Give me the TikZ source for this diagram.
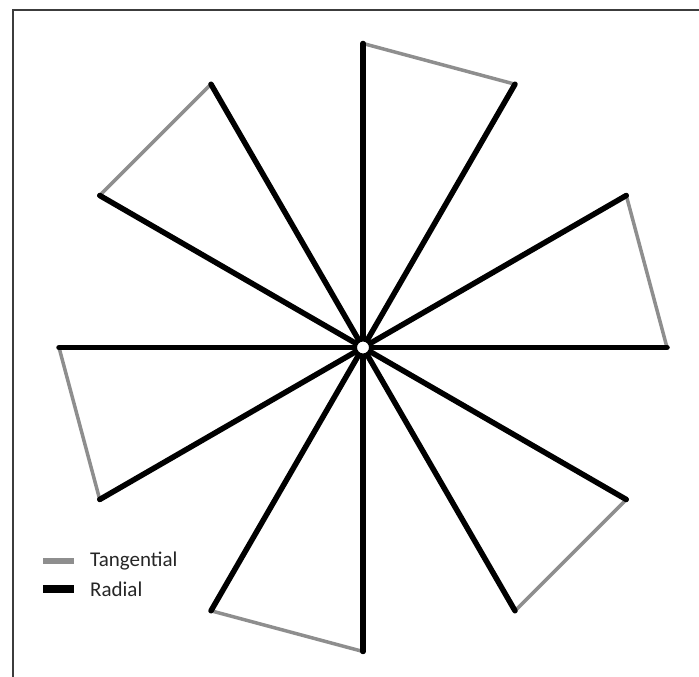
\documentclass[tikz,border=0pt]{standalone}
\usepackage{fontspec}
\setmainfont{Carlito}
\usepackage{xcolor}
\definecolor{wheelgrey}{HTML}{8E8E8E}
\definecolor{wheelframe}{HTML}{3C3C3C}
\usetikzlibrary{positioning}
\tikzset{
  wheelrad/.style={line width=5.5pt,black,line cap=round},
  wheeltan/.style={line width=3.5pt,wheelgrey,line cap=round},
  wheelhub/.style={circle,draw,line width=3pt,fill=white,inner sep=0pt,minimum size=15pt},
  wheelkey/.style={rectangle,inner sep=0pt,minimum width=31pt},
  wheeltext/.style={font=\fontsize{21}{25}\selectfont,text=black!85,inner sep=0pt,anchor=west},
}

\begin{document}
\begin{tikzpicture}[x=1pt,y=1pt]
\useasboundingbox (0,0) rectangle (699,677);
\draw[wheelframe,line width=2.8pt] (13,0) -- (13,667) -- (699,667);
\coordinate (c) at (363,329.5);
\foreach \k in {0,...,11}
  \path (c) ++(\k*30:304) coordinate (e\k);
% tangential edges
\foreach \a/\b in {0/1,2/3,4/5,6/7,8/9,10/11}
  \draw[wheeltan] (e\a) -- (e\b);
% radial spokes
\foreach \k in {0,...,11}
  \draw[wheelrad] (c) -- (e\k);
\node[wheelhub] (hub) at (c) {};
% legend
\node[wheelkey,fill=wheelgrey,minimum height=6.5pt] (keytan) at (58,116) {};
\node[wheelkey,fill=black,minimum height=8.5pt] (keyrad) at (58,88) {};
\node[wheeltext] (labtan) at (90,116) {Tangential};
\node[wheeltext] (labrad) at (90,88) {Radial};
\end{tikzpicture}
\end{document}
